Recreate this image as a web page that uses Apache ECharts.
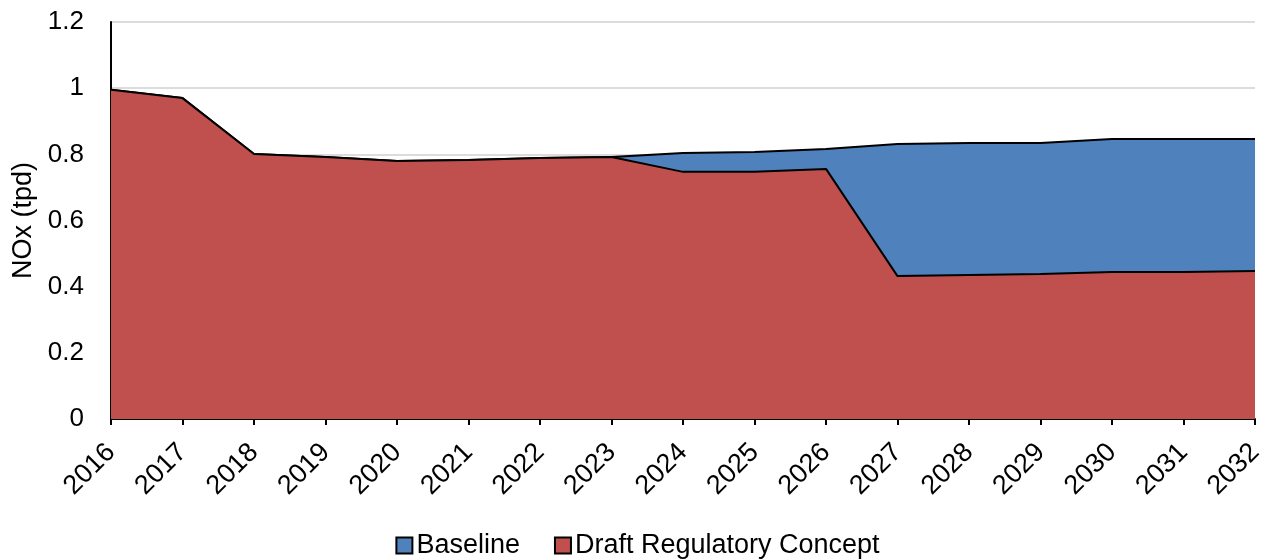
<!DOCTYPE html>
<html>
<head>
<meta charset="utf-8">
<script src="https://cdn.jsdelivr.net/npm/echarts@6/dist/echarts.min.js"></script>
<style>
  html, body { margin: 0; padding: 0; background: #fff; }
  #chart { width: 1275px; height: 560px; }
</style>
</head>
<body>
<div id="chart"></div>
<script>
// NOx emissions (tpd), 2016-2032
const years = ['2016','2017','2018','2019','2020','2021','2022','2023','2024','2025','2026','2027','2028','2029','2030','2031','2032'];
const baseline = [0.995, 0.970, 0.801, 0.792, 0.780, 0.783, 0.789, 0.792, 0.804, 0.807, 0.816, 0.831, 0.834, 0.834, 0.846, 0.846, 0.846];
const draftConcept = [0.995, 0.970, 0.801, 0.792, 0.780, 0.783, 0.789, 0.792, 0.747, 0.747, 0.756, 0.432, 0.435, 0.438, 0.444, 0.444, 0.447];

const FONT = '"Liberation Sans", Arial, sans-serif';

const chart = echarts.init(document.getElementById('chart'));
chart.setOption({
  animation: false,
  backgroundColor: '#ffffff',
  grid: { left: 111, right: 20, top: 22, bottom: 141 },
  legend: {
    bottom: -4,
    left: 'center',
    itemWidth: 16,
    itemHeight: 16,
    itemGap: 34,
    icon: 'rect',
    textStyle: { fontFamily: FONT, fontSize: 27, color: '#000', padding: [0, 0, 0, -1] },
    data: [
      { name: 'Baseline', itemStyle: { color: '#4F81BD', borderColor: '#000', borderWidth: 2 } },
      { name: 'Draft Regulatory Concept', itemStyle: { color: '#C0504D', borderColor: '#000', borderWidth: 2 } }
    ]
  },
  xAxis: {
    type: 'category',
    data: years,
    boundaryGap: false,
    axisLine: { lineStyle: { color: '#000', width: 2 } },
    axisTick: { show: true, length: 6, lineStyle: { color: '#000', width: 2 } },
    axisLabel: { rotate: 45, fontFamily: FONT, fontSize: 27, color: '#000', margin: 29 },
    splitLine: { show: false }
  },
  yAxis: {
    type: 'value',
    min: 0,
    max: 1.2,
    interval: 0.2,
    name: 'NOx (tpd)',
    nameLocation: 'middle',
    nameGap: 68,
    nameRotate: 90,
    nameTextStyle: { fontFamily: FONT, fontSize: 27, color: '#000' },
    axisLine: { show: true, lineStyle: { color: '#000', width: 2 } },
    axisTick: { show: false },
    axisLabel: { fontFamily: FONT, fontSize: 26, color: '#000', margin: 27 },
    splitLine: { show: true, lineStyle: { color: '#d0d0d0', width: 1.5 } }
  },
  series: [
    {
      name: 'Baseline',
      type: 'line',
      data: baseline,
      symbol: 'none',
      lineStyle: { color: '#000', width: 2 },
      itemStyle: { color: '#4F81BD' },
      areaStyle: { color: '#4F81BD', opacity: 1 },
      z: 2
    },
    {
      name: 'Draft Regulatory Concept',
      type: 'line',
      data: draftConcept,
      symbol: 'none',
      lineStyle: { color: '#000', width: 2 },
      itemStyle: { color: '#C0504D' },
      areaStyle: { color: '#C0504D', opacity: 1 },
      z: 3
    }
  ]
});
</script>
</body>
</html>
